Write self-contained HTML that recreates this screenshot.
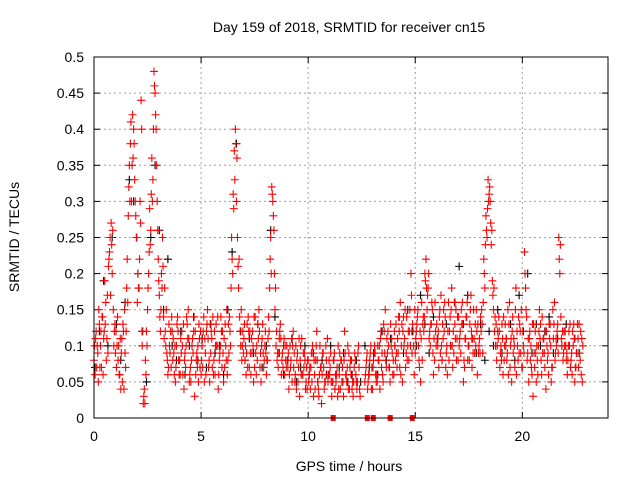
<!DOCTYPE html>
<html><head><meta charset="utf-8"><style>
body{margin:0;background:#fff}
svg{display:block;font-family:"Liberation Sans",sans-serif}
</style></head><body>
<svg id="chart" width="640" height="480">
<text x="349" y="32" font-size="14" text-anchor="middle">Day 159 of 2018, SRMTID for receiver cn15</text>
<text x="349" y="471" font-size="14" text-anchor="middle">GPS time / hours</text>
<text transform="translate(19,237) rotate(-90)" font-size="14" text-anchor="middle">SRMTID / TECUs</text>
<g id="grid"></g><g id="ticks"></g><g id="marks"></g>
<rect x="94" y="57" width="514" height="361" fill="none" stroke="#000" stroke-width="1"/>
</svg>
<script>
const xTicks=[0,5,10,15,20];
const yTicks=[0,0.05,0.1,0.15,0.2,0.25,0.3,0.35,0.4,0.45,0.5];
const yLabels=["0","0.05","0.1","0.15","0.2","0.25","0.3","0.35","0.4","0.45","0.5"];
const redA=[.08,.12,.05,.10,.14,.19,.11,.22,.27,.15,
.09,.14,.06,.11,.04,.12,.28,.38,.42,.33,
.25,.18,.44,.02,.08,.15,.29,.36,.48,.40,
.22,.12,.25,.18,.09,.13,.07,.11,.05,.14,
.08,.12,.04,.10,.15,.07,.11,.03,.09,.13,
.06,.12,.09,.15,.05,.11,.08,.13,.04,.10,
.12,.07,.15,.09,.18,.31,.40,.25,.14,.08,
.11,.06,.14,.09,.12,.07,.10,.15,.05,.09,
.12,.08,.18,.32,.26,.10,.07,.13,.09,.06,
.10,.04,.08,.12,.06,.09,.03,.11,.07,.05,
.08,.04,.10,.06,.12,.03,.07,.09,.05,.11,
.06,.03,.08,.05,.10,.04,.07,.12,.05,.09,
.06,.03,.08,.05,.04,null,null,.07,.05,.09,
.04,.10,.06,.08,.12,.05,.15,.09,.07,.11,
.06,.13,.09,.16,.05,.11,.14,.08,.20,.12,
.09,.14,.07,.16,.12,.22,.18,.10,.15,.08,
.13,.07,.17,.11,.14,.06,.12,.18,.09,.15,
.08,.12,.16,.07,.14,.10,.17,.09,.13,.06,
.11,.15,.22,.28,.33,.30,.19,.12,.08,.14,
.10,.06,.13,.09,.16,.05,.11,.18,.08,.12,
.07,.23,.14,.05,.10,.03,.12,.08,.15,.06,
.11,.04,.09,.13,.07,.16,.10,.25,.14,.08,
.12,.06,.10,.09,.13,.07,.11,.08,.05];
const redB=[.06,.10,.13,.07,.11,.16,.09,.25,.20,.12,
.07,.10,.04,.13,.09,.22,.35,.30,.40,.28,
.20,.30,.10,.04,.12,.20,.26,.33,.45,.30,
.17,.20,.14,.10,.06,.09,.12,.06,.10,.08,
.11,.06,.09,.13,.05,.08,.12,.06,.10,.07,
.10,.05,.12,.07,.09,.14,.06,.10,.08,.12,
.05,.10,.08,.12,.22,.37,.30,.18,.10,.12,
.08,.13,.07,.11,.05,.09,.13,.07,.11,.08,
.06,.14,.25,.30,.15,.08,.11,.06,.10,.08,
.07,.10,.05,.09,.04,.07,.10,.06,.08,.04,
.06,.09,.03,.08,.05,.10,.06,.04,.08,.06,
.09,.05,.04,.07,.06,.08,.03,.06,.10,.07,
.04,.07,.05,.10,null,null,.05,.09,.06,.04,
.08,.06,.10,.04,.09,.12,.07,.10,.13,.06,
.10,.07,.12,.10,.14,.07,.10,.15,.09,.06,
.12,.10,.05,.13,.20,.15,.11,.13,.06,.12,
.10,.15,.08,.12,.09,.16,.10,.07,.13,.11,
.10,.15,.05,.11,.08,.13,.07,.11,.15,.09,
.14,.09,.18,.25,.31,.24,.15,.10,.12,.07,
.13,.08,.11,.06,.10,.14,.07,.12,.09,.15,
.10,.18,.09,.12,.06,.09,.05,.10,.13,.09,
.07,.10,.13,.05,.11,.09,.13,.20,.10,.12,
.08,.10,.07,.12,.05,.09,.13,.06];
const redC=[.10,.07,.15,.12,.06,.13,.17,.23,.24,.10,
.12,.08,.11,.05,.15,.18,.32,.41,.36,.30,
.16,.22,.40,.03,.06,.18,.24,.30,.46,.35,
.19,.15,.21,.12,.08,.10,.14,.09,.07,.12,
.06,.10,.08,.14,.11,.05,.09,.12,.07,.11,
.08,.14,.06,.11,.13,.07,.12,.10,.06,.14,
.09,.13,.06,.14,.25,.29,.38,.21,.12,.10,
.13,.09,.12,.06,.10,.14,.08,.12,.10,.07,
.09,.11,.22,.31,.20,.12,.09,.11,.07,.10,
.08,.06,.11,.07,.10,.05,.08,.06,.09,.07,
.05,.07,.09,.04,.08,.06,.02,.07,.10,.05,
.07,.05,.09,.06,.04,.08,.05,.09,.07,.04,
.08,.05,.06,.09,.03,null,null,.08,.06,.10,
.07,.09,.05,.10,.07,.13,.08,.12,.05,.09,
.12,.09,.14,.06,.12,.15,.08,.12,.17,.10,
.11,.15,.12,.08,.14,.18,.20,.13,.09,.16,
.11,.14,.10,.15,.07,.12,.14,.10,.16,.08,
.14,.09,.13,.11,.16,.08,.12,.15,.10,.13,
.09,.13,.20,.26,.30,.27,.17,.14,.10,.12,
.08,.14,.10,.15,.07,.12,.10,.06,.14,.09,
.12,.20,.08,.11,.07,.13,.09,.06,.11,.14,
.09,.12,.06,.10,.15,.08,.12,.22,.11,.09,
.10,.08,.13,.06,.11,.09,.07,.12,.10];
const redD=[.11,.09,.07,.14,.12,.08,.21,.17,.26,.13,
.10,.06,.09,.12,.07,.16,.30,.35,.38,.25,
.18,.27,.12,.02,.10,.23,.31,.40,.42,.26,
.14,.18,.11,.15,.07,.12,.08,.10,.13,.06,
.09,.13,.07,.11,.06,.10,.14,.08,.05,.12,
.07,.11,.13,.08,.12,.06,.10,.14,.09,.07,
.11,.08,.13,.10,.20,.33,.36,.22,.15,.09,
.10,.07,.12,.09,.14,.06,.11,.09,.13,.10,
.08,.12,.20,.28,.18,.09,.12,.08,.11,.07,
.09,.07,.10,.05,.08,.11,.06,.09,.04,.08,
.07,.05,.08,.10,.04,.07,.09,.05,.06,.08,
.05,.08,.06,.03,.09,.05,.08,.06,.04,.08,
.05,.09,.04,.07,null,null,.06,.04,.08,.07,
.09,.05,.08,.11,.06,.09,.11,.07,.10,.08,
.08,.11,.07,.13,.10,.09,.12,.10,.13,.15,
.13,.08,.11,.14,.19,.17,.12,.16,.11,.10,
.12,.09,.13,.16,.10,.08,.15,.12,.11,.14,
.11,.13,.08,.14,.10,.15,.11,.09,.12,.10,
.12,.16,.24,.29,.32,.26,.18,.13,.11,.09,
.11,.10,.08,.13,.11,.09,.15,.10,.13,.07,
.09,.15,.11,.08,.13,.07,.10,.12,.08,.11,
.12,.08,.11,.07,.13,.11,.09,.24,.12,.10,
.09,.12,.08,.10,.07,.13,.09,.11];
const black=[.07,.12,.19,.10,.25,.13,.08,.16,.33,.30,.20,.12,.05,.25,.35,.26,.15,.22,.10,.08,
.12,.06,.10,.14,.08,.11,.07,.13,.09,.10,.06,.15,.23,.38,.12,.08,.11,.09,.13,.07,
.10,.26,.14,.09,.06,.08,.11,.05,.07,.10,.06,.09,.05,.08,.06,.10,.04,.07,.09,.05,
.06,.08,.05,.10,.07,.09,.06,.12,.08,.11,.10,.14,.09,.15,.12,.10,.17,.13,.09,.14,
.11,.08,.13,.10,.16,.21,.13,.17,.11,.09,.13,.08,.12,.10,.15,.09,.11,.13,.08,.17,
.12,.20,.09,.13,.10,.12,.14,.09,.11,.10,.13,.07,.11,.09];
const zeroFlags=[11.17,12.76,13.04,13.83,14.86];
const NS="http://www.w3.org/2000/svg";
const X0=94,X1=608,Y0=418,Y1=57,XMAX=24,YMAX=0.5;
function xs(t){return X0+(X1-X0)*t/XMAX;}
function ys(v){return Y0-(Y0-Y1)*v/YMAX;}
const grid=document.getElementById('grid'),ticks=document.getElementById('ticks'),marks=document.getElementById('marks');
function mk(tag,attrs,parent){const e=document.createElementNS(NS,tag);for(const k in attrs)e.setAttribute(k,attrs[k]);parent.appendChild(e);return e;}
xTicks.forEach(t=>{const x=xs(t);
 if(t>0){const g=mk('line',{x1:x,x2:x,y1:Y1,y2:Y0,stroke:'#a0a0a0','stroke-dasharray':'2,3'},grid);
 
 }
 mk('line',{x1:x,x2:x,y1:Y0,y2:Y0-6,stroke:'#000'},ticks);
 mk('line',{x1:x,x2:x,y1:Y1,y2:Y1+6,stroke:'#000'},ticks);
 const l=mk('text',{x:x,y:Y0+23,'font-size':14,'text-anchor':'middle'},ticks);l.textContent=t;
 
 });
yTicks.forEach((v,i)=>{const y=ys(v);
 if(i>0&&i<yTicks.length-1){const g=mk('line',{x1:X0,x2:X1,y1:y,y2:y,stroke:'#a0a0a0','stroke-dasharray':'2,3'},grid);
 
 }
 mk('line',{x1:X0,x2:X0+6,y1:y,y2:y,stroke:'#000'},ticks);
 mk('line',{x1:X1,x2:X1-6,y1:y,y2:y,stroke:'#000'},ticks);
 const l=mk('text',{x:X0-10,y:y+5,'font-size':14,'text-anchor':'end'},ticks);l.textContent=yLabels[i];
 
 });
function plus(t,v,color,name){if(v===null)return;const x=xs(t),y=ys(v);
 const p=mk('path',{d:`M${x-4} ${y}h8M${x} ${y-4}v8`,stroke:color,'stroke-width':1.1,fill:'none'},marks);
 
 }
black.forEach((v,i)=>plus(i*0.2+0.05,v,'#000','black-point'));
redA.forEach((v,i)=>plus(i*0.1,v,'#ff0000','red-point'));
redC.forEach((v,i)=>plus(i*0.1+0.025,v,'#ff0000','red-point'));
redB.forEach((v,i)=>plus(i*0.1+0.05,v,'#ff0000','red-point'));
redD.forEach((v,i)=>plus(i*0.1+0.075,v,'#ff0000','red-point'));
zeroFlags.forEach(t=>{const r=mk('rect',{x:xs(t)-2.5,y:Y0-3,width:5,height:6,fill:'#ff0000'},marks);
 
 });
</script>
</body></html>
